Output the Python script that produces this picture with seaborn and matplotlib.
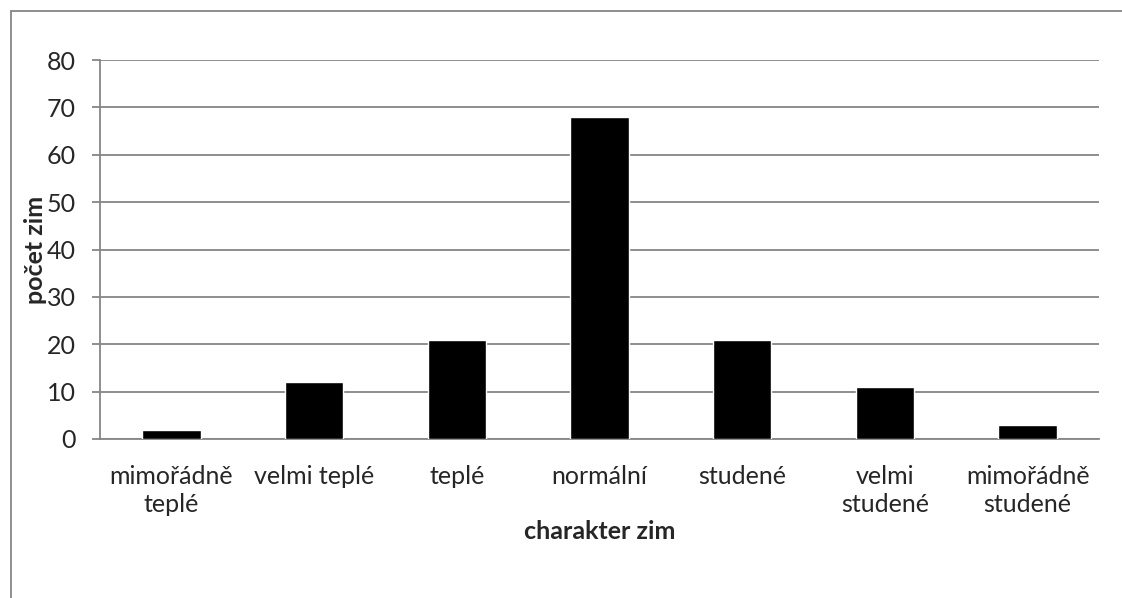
import matplotlib
matplotlib.use("Agg")
import matplotlib.pyplot as plt
import seaborn as sns
import pandas as pd
from matplotlib.patches import Rectangle

categories = ["mimořádně\nteplé", "velmi teplé", "teplé", "normální",
              "studené", "velmi\nstudené", "mimořádně\nstudené"]
counts = [2, 12, 21, 68, 21, 11, 3]
y_ticks = [0, 10, 20, 30, 40, 50, 60, 70, 80]
x_title = "charakter zim"
y_title = "počet zim"

sns.set_theme(style="white")
plt.rcParams["font.family"] = ["Lato", "DejaVu Sans"]

grid_col = "#868686"
fs = 18
W, H = 1122, 598
fig = plt.figure(figsize=(W / 100, H / 100), dpi=100)
left, right, top, bottom = 100, 1099, 60, 439
ax = fig.add_axes([left / W, (H - bottom) / H, (right - left) / W, (bottom - top) / H])

df = pd.DataFrame({"kategorie": categories, "pocet": counts})
sns.barplot(data=df, x="kategorie", y="pocet", color="black", width=0.41,
            saturation=1, ax=ax, zorder=3)

ax.set_xlim(-0.5, len(categories) - 0.5)
ax.set_ylim(0, 80)
ax.set_yticks(y_ticks)
ax.yaxis.grid(True, color=grid_col, linewidth=1.3, zorder=0)
ax.xaxis.grid(False)
ax.set_axisbelow(True)

for side in ("top", "right"):
    ax.spines[side].set_visible(False)
for side in ("left", "bottom"):
    ax.spines[side].set_color(grid_col)
    ax.spines[side].set_linewidth(1.3)

# category ticks sit on the boundaries between groups
ax.set_xticks(range(len(categories)))
ax.set_xticklabels(categories, fontsize=fs, linespacing=1.22)
ax.tick_params(axis="x", which="major", length=0, pad=19)
ax.set_xticks([i - 0.5 for i in range(len(categories) + 1)], minor=True)
ax.tick_params(axis="x", which="minor", length=5.5, width=1.3, color=grid_col,
               direction="out")
ax.tick_params(axis="y", length=5.5, width=1.3, color=grid_col, pad=12,
               labelsize=fs, left=True, direction="out")

ax.set_xlabel(x_title, fontsize=fs, fontweight="bold", labelpad=3)
ax.set_ylabel(y_title, fontsize=fs, fontweight="bold", labelpad=0)

# chart frame
fig.patches.append(Rectangle((11 / W, -0.05), 1.2, 1 - 11 / H + 0.05,
                             transform=fig.transFigure, fill=False,
                             edgecolor=grid_col, linewidth=1.3))

fig.savefig("out.png", dpi=100)
